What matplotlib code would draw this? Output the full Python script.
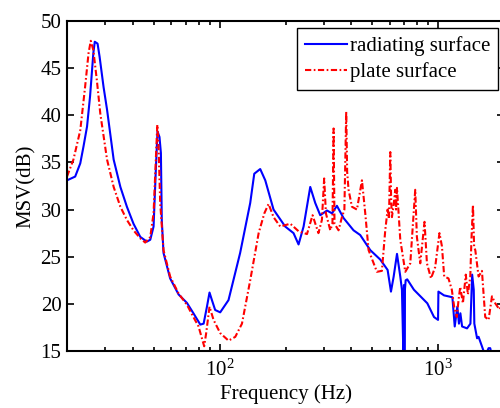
import matplotlib
matplotlib.use("Agg")
import matplotlib.pyplot as plt
from matplotlib.ticker import LogLocator, NullFormatter

# radiating surface (blue, solid)
freq_rad = [20.0, 21.8, 23.0, 23.8, 24.7, 25.5, 26.4, 26.8, 27.6, 28.2, 29.4, 30.5,
            32.7, 35.1, 37.6, 40.3, 43.3, 46.4, 48.1, 49.8, 51.0, 51.9, 53.0, 53.8,
            54.3, 55.3, 59.3, 64.8, 70.8, 75.8, 81.5, 84.4, 87.4, 89.8, 92.1, 95.3,
            100.5, 109.7, 124.0, 137.9, 143.9, 153.2, 161.6, 176.3, 199.4, 217.7,
            229.5, 242.0, 259.6, 273.6, 288.4, 309.7, 326.5, 343.8, 368.8, 409.6,
            439.5, 488.5, 542.8, 586.6, 607.7, 625.3, 647.6, 670.4, 682.2, 693.6,
            697.0, 700.0, 704.0, 709.6, 721.3, 773.8, 891.4, 956.7, 998.0, 1002.0,
            1063.0, 1161.0, 1190.0, 1223.0, 1244.0, 1263.0, 1286.0, 1355.0, 1404.0,
            1430.0, 1454.0, 1463.0, 1506.0, 1530.0, 1585.0, 1641.0, 1700.0, 1730.0,
            1760.0, 2000.0]
msv_rad = [33.1, 33.5, 34.9, 36.7, 38.8, 42.0, 46.6, 47.8, 47.6, 46.2, 43.0, 40.6,
           35.3, 32.4, 30.3, 28.5, 27.1, 26.6, 26.8, 28.2, 34.2, 38.3, 37.7, 36.0,
           28.9, 25.4, 22.7, 21.0, 20.1, 19.0, 17.8, 17.9, 19.7, 21.2, 20.4, 19.35,
           19.1, 20.4, 25.4, 30.7, 33.8, 34.3, 33.1, 30.0, 28.2, 27.5,
           26.3, 28.2, 32.4, 30.7, 29.4, 29.9, 29.6, 30.4, 29.1, 27.8,
           27.3, 25.7, 24.7, 23.6, 21.3, 22.9, 25.3, 22.9, 21.5, 14.0,
           22.0, 14.0, 21.5, 22.5, 22.6, 21.5, 20.06, 18.6, 18.3, 21.3,
           20.9, 20.7, 17.6, 19.7, 17.9, 19.0, 17.6, 17.4, 17.9,
           23.1, 21.5, 17.9, 16.35, 16.5, 15.5, 14.5, 15.3, 15.3,
           14.5, 14.5]

# plate surface (red, dash-dot)
freq_plate = [20.0, 21.4, 23.0, 24.2, 25.1, 25.7, 26.4, 27.4, 28.4, 30.5, 32.7, 35.1,
              37.6, 40.3, 43.3, 45.6, 48.1, 49.8, 51.0, 51.8, 52.5, 53.4, 55.3, 59.3,
              64.8, 70.8, 75.8, 80.0, 84.9, 86.7, 89.8, 93.7, 100.5, 109.7, 117.8,
              126.4, 137.9, 150.7, 160.0, 167.3, 176.3, 189.2, 210.4, 229.5, 250.8,
              266.0, 283.0, 293.5, 300.6, 306.2, 320.6, 328.0, 332.0, 335.2, 349.8,
              362.5, 372.0, 379.2, 383.0, 388.7, 402.8, 424.6, 447.6, 463.5, 480.0,
              524.1, 552.3, 572.2, 586.6, 595.0, 603.4, 609.0, 614.0, 625.0, 635.9,
              641.0, 647.6, 670.4, 706.6, 745.0, 784.8, 798.6, 827.6, 865.6, 887.8,
              926.7, 968.4, 1013.0, 1040.0, 1065.0, 1114.0, 1154.0, 1183.0, 1216.0,
              1240.0, 1261.0, 1297.0, 1337.0, 1367.0, 1402.0, 1420.0, 1442.0, 1460.0,
              1478.0, 1530.0, 1585.0, 1641.0, 1700.0, 1762.0, 1824.0, 1906.0, 2000.0]
msv_plate = [33.5, 35.3, 38.4, 43.0, 46.6, 47.9, 46.9, 43.7, 40.2, 35.3, 32.4, 30.3,
             28.9, 27.8, 26.95, 26.5, 27.1, 29.6, 35.3, 39.0, 36.7, 30.7, 25.7, 22.9,
             21.1, 19.9, 18.6, 17.6, 15.5, 16.9, 19.7, 18.3, 16.9, 16.1, 16.5,
             17.9, 22.5, 27.5, 29.6, 30.6, 29.2, 28.2, 28.5, 27.7, 27.4,
             29.4, 27.5, 28.9, 33.3, 29.6, 27.8, 28.5, 38.6, 28.5, 27.8,
             29.2, 30.0, 40.4, 34.0, 32.1, 30.3, 30.0, 33.1, 29.6, 25.7,
             23.4, 23.5, 27.8, 30.0, 29.0, 36.1, 31.0, 29.2, 30.5, 32.1,
             30.0, 32.3, 26.8, 23.4, 24.3, 32.1, 27.1, 24.3, 28.7, 24.3,
             22.7, 23.9, 27.5, 26.1, 22.9, 22.7, 21.5, 19.7, 18.6,
             20.5, 21.8, 20.06, 23.1, 21.0, 22.9, 27.0, 30.5, 26.0,
             25.7, 22.9, 23.5, 18.6, 18.3, 20.8, 20.06, 19.4, 20.5]

plt.rcParams['font.family'] = 'Liberation Serif'
plt.rcParams['mathtext.fontset'] = 'custom'
plt.rcParams['mathtext.rm'] = 'Liberation Serif'
plt.rcParams['mathtext.it'] = 'Liberation Serif:italic'
plt.rcParams['font.size'] = 15

fig = plt.figure(figsize=(5.0, 4.08), dpi=100)
ax = fig.add_axes([67 / 500, 57 / 408, 437 / 500, 330 / 408])

ax.semilogx(freq_rad, msv_rad, '-', color='#0000ff', lw=1.5, label='radiating surface')
ax.semilogx(freq_plate, msv_plate, color='#ff0000', lw=1.5, dashes=(3, 1.2, 0.8, 1.2),
            label='plate surface')

ax.set_xlim(20, 2000)
ax.set_ylim(15, 50)
ax.set_yticks([15, 20, 25, 30, 35, 40, 45, 50])
ax.xaxis.set_major_locator(LogLocator(base=10))
ax.xaxis.set_minor_locator(LogLocator(base=10, subs=range(2, 10)))
ax.xaxis.set_minor_formatter(NullFormatter())

ax.tick_params(which='both', direction='in', top=True, right=True, width=1.2)
ax.tick_params(which='major', length=5, pad=4)
ax.tick_params(which='minor', length=3)
ax.tick_params(axis='x', which='major', pad=6)
for s in ax.spines.values():
    s.set_linewidth(1.5)

ax.set_xlabel('Frequency (Hz)', labelpad=3)
ax.set_ylabel('MSV(dB)', labelpad=3)

leg = ax.legend(loc='upper right', bbox_to_anchor=(0.9863, 0.978), borderaxespad=0,
                fancybox=False, framealpha=1, edgecolor='black', handlelength=2.05,
                handletextpad=0.12, borderpad=0.38, labelspacing=0.3)
leg.get_frame().set_linewidth(1.0)

fig.savefig('out.png', dpi=100)
